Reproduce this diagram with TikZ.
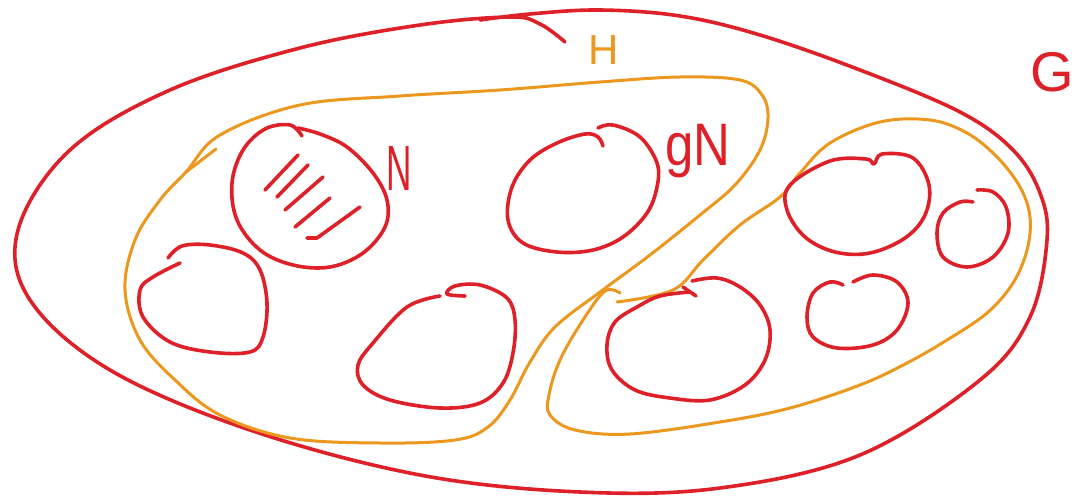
\documentclass[tikz,border=0pt]{standalone}
\usepackage{fontspec}
\newfontfamily\hand{Liberation Sans}
\definecolor{penred}{RGB}{222,32,40}
\definecolor{penorange}{RGB}{236,152,30}
\tikzset{
  redline/.style={draw=penred, line width=3.6pt, line cap=round, line join=round},
  orangeline/.style={draw=penorange, line width=3pt, line cap=round, line join=round},
  redlabel/.style={text=penred, font=\hand, inner sep=0pt},
  orangelabel/.style={text=penorange, font=\hand, inner sep=0pt}
}
\begin{document}
\begin{tikzpicture}[x=1pt,y=-1pt]
\fill[white] (0,0) rectangle (1078,503);
\useasboundingbox (0,0) rectangle (1078,503);
\clip (0,0) rectangle (1078,503);

% big set G
\draw[redline] plot[smooth, tension=0.6] coordinates {(565,42) (540,24) (510,17) (420,25) (300,48) (170,90) (70,150) (18,230) (30,300) (110,370) (250,430) (420,475) (580,492) (720,488) (860,455) (980,380) (1030,317) (1047,240) (1040,193) (1013,150) (960,112) (860,70) (760,35) (680,16) (600,10) (530,14) (480,20)};

% subgroup H
\draw[orangeline] plot[smooth cycle, tension=0.6] coordinates {(220,135) (300,105) (400,96) (500,90) (600,82) (680,77) (740,80) (762,95) (768,118) (760,150) (735,185) (700,215) (650,255) (600,292) (555,327) (530,362) (510,400) (488,427) (455,440) (380,443) (290,438) (220,415) (175,380) (140,340) (125,290) (135,240) (160,200) (186,172)};
\draw[orangeline] (186,172) -- (216,149);

% another coset region
\draw[orangeline] plot[smooth, tension=0.6] coordinates {(617,302) (673,290) (703,260) (740,225) (780,197) (800,173) (830,143) (880,122) (930,120) (967,133) (997,157) (1020,187) (1030,217) (1027,250) (1013,283) (987,313) (947,340) (907,363) (860,385) (790,408) (720,422) (630,434) (575,430) (550,415) (549,395) (560,360) (583,320) (605,291) (620,293)};

% normal subgroup N (hatched)
\draw[redline] plot[smooth, tension=0.6] coordinates {(302,136) (290,125) (265,129) (243,150) (232,183) (237,220) (260,250) (293,265) (330,267) (363,253) (385,227) (387,200) (373,173) (347,147) (320,134) (298,128)};
\draw[redline] (265,190) -- (298,155);
\draw[redline] (277,197) -- (308,165);
\draw[redline] (285,210) -- (323,177);
\draw[redline] (295,227) -- (330,198);
\draw[redline] (307,238) -- (317,238) -- (360,207);

% left coset
\draw[redline] plot[smooth, tension=0.6] coordinates {(168,258) (182,246) (210,245) (243,253) (260,270) (267,303) (263,337) (250,352) (210,352) (170,342) (143,317) (140,290) (153,277) (180,263)};

% coset gN
\draw[redline] plot[smooth, tension=0.6] coordinates {(598,128) (613,125) (640,137) (657,163) (657,187) (647,213) (623,237) (593,250) (557,252) (523,243) (508,220) (512,187) (530,160) (557,143) (585,134) (598,137) (603,146)};

% bottom middle coset
\draw[redline] plot[smooth, tension=0.6] coordinates {(465,296) (447,294) (455,286) (480,285) (507,298) (515,320) (513,353) (503,383) (480,403) (440,408) (390,400) (363,385) (358,365) (373,343) (407,307) (440,296)};

% coset with cross
\draw[redline] plot[smooth, tension=0.6] coordinates {(692,281) (717,278) (740,287) (760,305) (770,330) (765,360) (745,385) (710,400) (670,398) (635,390) (612,370) (607,345) (615,322) (637,307) (660,296) (690,292)};
\draw[redline] (683,287) -- (696,296);

% right cosets
\draw[redline] plot[smooth cycle, tension=0.6] coordinates {(790,185) (830,161) (866,159) (874,164) (882,154) (913,158) (929,185) (925,215) (905,238) (870,253) (835,252) (805,237) (787,210)};
\draw[redline] plot[smooth, tension=0.6] coordinates {(977,190) (993,192) (1006,207) (1008,233) (993,257) (967,267) (943,257) (937,233) (943,213) (960,202) (973,202)};
\draw[redline] plot[smooth, tension=0.6] coordinates {(853,282) (873,275) (897,282) (908,303) (897,330) (873,345) (837,348) (813,337) (807,317) (813,293) (830,282) (843,285)};

% labels
\node[orangelabel, font=\hand\fontsize{42}{42}\selectfont] (labH) at (604,50) {H};
\node[redlabel, font=\hand\fontsize{64}{64}\selectfont, xscale=0.55, anchor=base west] (labN) at (386,190) {N};
\node[redlabel, font=\hand\fontsize{60}{60}\selectfont, xscale=0.85, anchor=base west] (labgN) at (665,165) {gN};
\node[redlabel, font=\hand\fontsize{56}{56}\selectfont, anchor=base west] (labG) at (1030,92) {G};
\end{tikzpicture}
\end{document}
